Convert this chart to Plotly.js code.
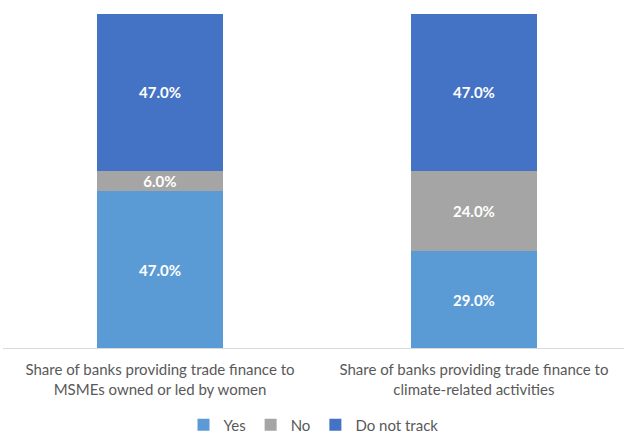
<!DOCTYPE html>
<html><head><meta charset="utf-8">
<script src="https://cdn.plot.ly/plotly-3.0.1.min.js"></script>
<style>html,body{margin:0;padding:0;background:#fff}#chart{width:624px;height:435px}</style>
</head><body><div id="chart"></div>
<script>
const categories = [
  "Share of banks providing trade finance to<br>MSMEs owned or led by women",
  "Share of banks providing trade finance to<br>climate-related activities"
];
const seriesNames = ["Yes", "No", "Do not track"];
const yesValues = [47.0, 29.0];
const noValues = [6.0, 24.0];
const doNotTrackValues = [47.0, 47.0];
const colors = ["#5b9bd5", "#a5a5a5", "#4472c4"];

const allValues = [yesValues, noValues, doNotTrackValues];
const traces = allValues.map((vals, i) => ({
  type: "bar",
  name: seriesNames[i],
  x: categories,
  y: vals,
  marker: {color: colors[i]},
  width: 0.4,
  text: vals.map(v => v.toFixed(1) + "%"),
  textposition: "inside",
  insidetextanchor: "middle",
  textangle: 0,
  textfont: {color: "#ffffff", size: 15, family: "Lato, 'Open Sans', sans-serif", weight: "bold"},
  constraintext: "none",
  hoverinfo: "skip"
}));

const layout = {
  width: 624, height: 435,
  margin: {l: 3, r: 0, t: 14, b: 87, autoexpand: false},
  barmode: "stack",
  paper_bgcolor: "#ffffff",
  plot_bgcolor: "#ffffff",
  font: {family: "Lato, 'Open Sans', sans-serif", color: "#595959"},
  xaxis: {
    type: "category",
    range: [-0.5, 1.478],
    showline: true, linecolor: "#d9d9d9", linewidth: 1,
    ticks: "", showgrid: false, zeroline: false,
    ticklabelstandoff: 8,
    tickfont: {size: 15, color: "#595959"}
  },
  yaxis: {
    range: [0, 100], visible: false, showgrid: false, zeroline: false
  },
  showlegend: true,
  legend: {
    orientation: "h", x: 0.5, xanchor: "center",
    y: -0.2305, yanchor: "middle",
    font: {size: 15, color: "#595959"},
    itemwidth: 30, traceorder: "normal"
  }
};

Plotly.newPlot("chart", traces, layout, {displayModeBar: false, staticPlot: true});
</script></body></html>
